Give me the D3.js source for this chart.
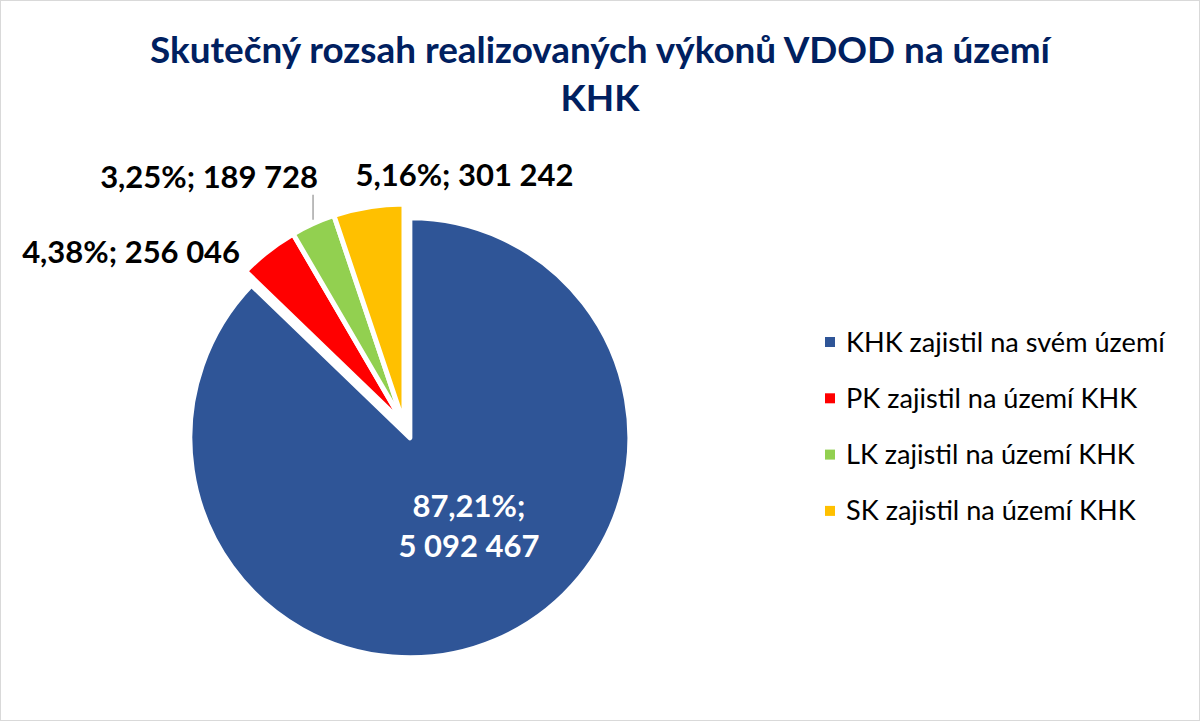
<!DOCTYPE html>
<html>
<head>
<meta charset="utf-8">
<script src="https://cdn.jsdelivr.net/npm/d3@7"></script>
<style>
  body { margin: 0; background: #fff; }
  svg { display: block; }
</style>
</head>
<body>
<script>
// data
var categories = ["KHK zajistil na svém území", "PK zajistil na území KHK", "LK zajistil na území KHK", "SK zajistil na území KHK"];
var values = [5092467, 256046, 189728, 301242];
var colors = ["#2F5597", "#FF0000", "#92D050", "#FFC000"];
var titleLines = ["Skutečný rozsah realizovaných výkonů VDOD na území", "KHK"];

var W = 1200, H = 721;
var FONT = "Lato, 'Open Sans', sans-serif";
var cx = 404, cy = 424, R = 220;
var explode = [15, 0, 0, 0];

var cz = d3.formatLocale({decimal: ",", thousands: "\u00a0", grouping: [3], currency: ["", ""]});
var fmtPct = cz.format(".2%");
var fmtNum = cz.format(",d");

var svg = d3.select("body").append("svg")
  .attr("width", W).attr("height", H);

svg.append("rect")
  .attr("x", 0.5).attr("y", 0.5)
  .attr("width", W - 1).attr("height", H - 1)
  .attr("fill", "#fff").attr("stroke", "#D9D9D9");

// size a text so that it is as wide as the reference
function fitSize(txt, weight, target) {
  var t = svg.append("text").attr("font-family", FONT)
    .attr("font-weight", weight).attr("font-size", 100).text(txt);
  var w = t.node().getComputedTextLength();
  t.remove();
  return 100 * target / w;
}

// title
var titleSize = fitSize(titleLines[0], "bold", 900);
svg.selectAll("text.title").data(titleLines).enter().append("text")
  .attr("class", "title")
  .attr("x", 600)
  .attr("y", function(d, i) { return 63 + i * 48; })
  .attr("text-anchor", "middle")
  .attr("font-family", FONT).attr("font-weight", "bold")
  .attr("font-size", titleSize)
  .attr("fill", "#002060")
  .text(function(d) { return d; });

// pie
var pie = d3.pie().sort(null).value(function(d) { return d; });
var arcs = pie(values);
var arc = d3.arc().innerRadius(0).outerRadius(R);
var total = d3.sum(values);

function offset(d, i) {
  var m = (d.startAngle + d.endAngle) / 2;
  return [Math.sin(m) * explode[i], -Math.cos(m) * explode[i]];
}

var g = svg.append("g").attr("transform", "translate(" + cx + "," + cy + ")");

g.selectAll("path").data(arcs).enter().append("path")
  .attr("d", arc)
  .attr("transform", function(d, i) { var o = offset(d, i); return "translate(" + o[0] + "," + o[1] + ")"; })
  .attr("fill", function(d, i) { return colors[i]; })
  .attr("stroke", "#fff").attr("stroke-width", 5).attr("stroke-linejoin", "round");

// data labels
function labelText(d, i) { return fmtPct(d.value / total) + "; " + fmtNum(d.value); }

var labelSize = fitSize(labelText(arcs[1], 1), "bold", 218);
var outer = d3.arc().innerRadius(R).outerRadius(R);

// offsets of the outside labels from the slice's outer point
var labelPos = [null, {anchor: "end", dx: -28, dy: 1}, {anchor: "end", dx: 5, dy: -47}, {anchor: "start", dx: -13, dy: -32}];

arcs.forEach(function(d, i) {
  var o = offset(d, i);
  if (i === 0) {
    var c = arc.centroid(d);
    var t = g.append("text")
      .attr("text-anchor", "middle")
      .attr("font-family", FONT).attr("font-weight", "bold")
      .attr("font-size", labelSize).attr("fill", "#fff");
    var lines = [fmtPct(d.value / total) + ";", fmtNum(d.value)];
    lines.forEach(function(l, k) {
      t.append("tspan")
        .attr("x", c[0] + o[0] + 16)
        .attr("y", c[1] + o[1] - 22 + k * 40)
        .text(l);
    });
    return;
  }
  var p = outer.centroid(d);
  var lp = labelPos[i];
  g.append("text")
    .attr("x", p[0] + lp.dx)
    .attr("y", p[1] + lp.dy)
    .attr("dy", "0.35em")
    .attr("text-anchor", lp.anchor)
    .attr("font-family", FONT).attr("font-weight", "bold")
    .attr("font-size", labelSize).attr("fill", "#000")
    .text(labelText(d, i));
  if (i === 2) {
    g.append("line")
      .attr("x1", p[0]).attr("y1", p[1] - 4)
      .attr("x2", p[0]).attr("y2", p[1] - 29)
      .attr("stroke", "#A6A6A6").attr("stroke-width", 1.5);
  }
});

// legend
var legendSize = fitSize(categories[0], "normal", 319);
var leg = svg.append("g").attr("transform", "translate(825,342)");
var item = leg.selectAll("g").data(categories).enter().append("g")
  .attr("transform", function(d, i) { return "translate(0," + (i * 56.3) + ")"; });
item.append("rect")
  .attr("x", 0).attr("y", -5).attr("width", 10).attr("height", 10)
  .attr("fill", function(d, i) { return colors[i]; });
item.append("text")
  .attr("x", 21).attr("y", 0).attr("dy", "0.35em")
  .attr("font-family", FONT).attr("font-size", legendSize)
  .attr("fill", "#000")
  .text(function(d) { return d; });
</script>
</body>
</html>
